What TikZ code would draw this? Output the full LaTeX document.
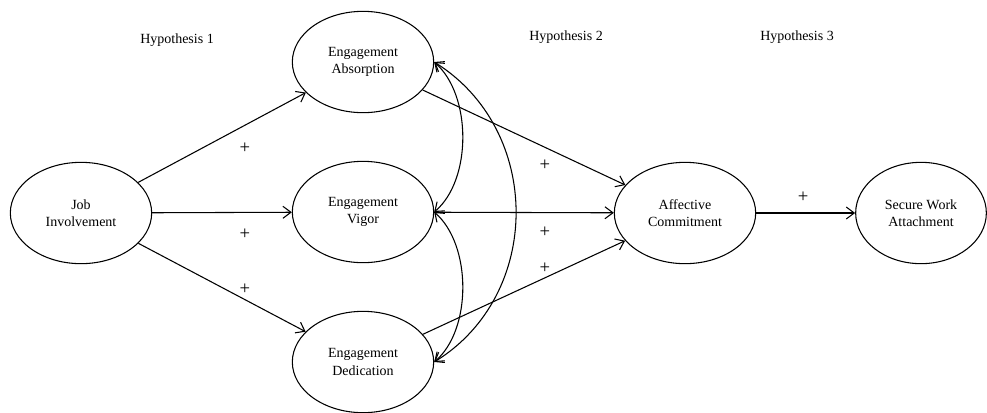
\documentclass[tikz,border=0pt]{standalone}
\usepackage{fontspec}
\setmainfont{Liberation Serif}
\usepackage{tikz}
\usetikzlibrary{shapes.geometric, arrows.meta}

\begin{document}
\begin{tikzpicture}[
    x=0.75pt, y=-0.75pt,
    >={Straight Barb[length=6pt, width=9pt]},
    latent/.style={ellipse, draw, thick, minimum width=106pt, minimum height=76pt, align=center, font=\fontsize{10.5}{12.8}\selectfont, inner sep=0pt},
    lbl/.style={font=\fontsize{10.5}{12.8}\selectfont},
    plus/.style={font=\fontsize{14}{14}\selectfont},
    arrow/.style={->, thick}
]
    \useasboundingbox (0, 0) rectangle (987, 412);

    % Predictor
    \node[latent] (jobinv) at (81, 213) {Job\\Involvement};

    % Engagement dimensions
    \node[latent] (absorb) at (363, 62) {Engagement\\Absorption};
    \node[latent] (vigor) at (363, 212) {Engagement\\Vigor};
    \node[latent] (dedic) at (363, 362) {Engagement\\Dedication};

    % Outcomes
    \node[latent] (affect) at (685, 213) {Affective\\Commitment};
    \node[latent, minimum width=98pt] (secure) at (921, 213) {Secure Work\\Attachment};

    % Hypothesis headings
    \node[lbl] (hyp1) at (177, 40) {Hypothesis 1};
    \node[lbl] (hyp2) at (566, 37) {Hypothesis 2};
    \node[lbl] (hyp3) at (797, 37) {Hypothesis 3};

    % Hypothesis 1 paths
    \draw[arrow] (jobinv) -- (absorb);
    \draw[arrow] (jobinv) -- (vigor);
    \draw[arrow] (jobinv) -- (dedic);
    \node[plus] (p1) at (245, 148) {+};
    \node[plus] (p2) at (245, 234) {+};
    \node[plus] (p3) at (245, 289) {+};

    % Hypothesis 2 paths
    \draw[arrow] (absorb) -- (affect);
    \draw[arrow] (vigor) -- (affect);
    \draw[arrow] (dedic) -- (affect);
    \node[plus] (p4) at (545, 165) {+};
    \node[plus] (p5) at (545, 232) {+};
    \node[plus] (p6) at (545, 268) {+};

    % Hypothesis 3 path
    \draw[arrow] (affect) -- (secure);
    \node[plus] (p7) at (803, 197) {+};

    % Correlations among engagement dimensions
    \draw[<->, thick] (absorb.east) .. controls (472, 95) and (472, 180) .. (vigor.east);
    \draw[<->, thick] (vigor.east) .. controls (472, 245) and (472, 330) .. (dedic.east);
    \draw[<->, thick] (absorb.east) .. controls (543, 130) and (543, 295) .. (dedic.east);
\end{tikzpicture}
\end{document}
